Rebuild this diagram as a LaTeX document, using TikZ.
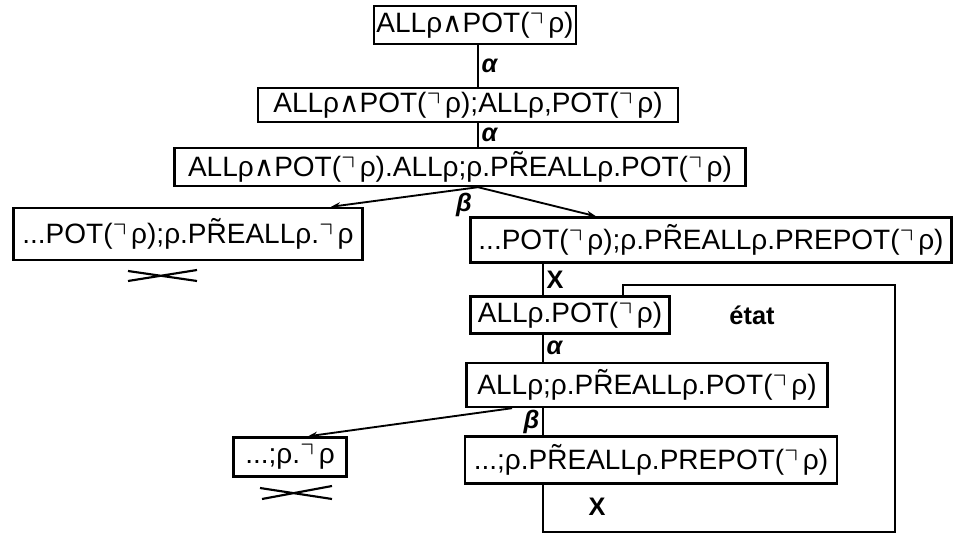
\documentclass[tikz,border=0pt]{standalone}
\usepackage{fontspec}
\usepackage{amssymb}
\setmainfont{Liberation Sans}
\newfontfamily\symfont{DejaVu Sans}
\usetikzlibrary{arrows.meta}
\newdimen\px \px=0.75pt
\newcommand\negmark{$\urcorner$\,}
\newcommand\andmark{{\symfont ∧}}
\tikzset{
  every picture/.style={line width=1.6pt},
  stat/.style={draw, line width=1.8pt, inner sep=2pt, font=\fontsize{21}{24}\selectfont},
  link/.style={line width=1.6pt},
  arrow/.style={-{Stealth[length=7pt, width=5pt]}, line width=1.4pt},
  lab/.style={font=\fontsize{19}{22}\selectfont\bfseries, inner sep=2pt},
}
\begin{document}
\begin{tikzpicture}[x=0.75pt, y=-0.75pt]
  \fill[white] (0,0) rectangle (953,534);
  \useasboundingbox (0,0) rectangle (953,534);
  % columns of the vertical links
  \coordinate (c1) at (478,0);
  \coordinate (c2) at (543,0);
  \coordinate (lp) at (623,0);
  \coordinate (lr) at (895,532);
  \coordinate (lt) at (895,285);
  % states
  \node[stat, minimum width=199\px, minimum height=38\px] (init) at (475,25) {ALLρ\andmark POT(\negmark ρ)};
  \node[stat, minimum width=420\px, minimum height=34\px] (step1) at (468,105) {ALLρ\andmark POT(\negmark ρ);ALLρ,POT(\negmark ρ)};
  \node[stat, minimum width=571\px, minimum height=38\px] (step2) at (460,167) {ALLρ\andmark POT(\negmark ρ).ALLρ;ρ.P\~{R}EALLρ.POT(\negmark ρ)};
  \node[stat, minimum width=349\px, minimum height=52\px] (deadA) at (188,234) {...POT(\negmark ρ);ρ.P\~{R}EALLρ.\negmark ρ};
  \node[stat, minimum width=481\px, minimum height=45\px] (pre) at (711,240) {...POT(\negmark ρ);ρ.P\~{R}EALLρ.PREPOT(\negmark ρ)};
  \node[stat, minimum width=199\px, minimum height=37\px] (state) at (570,315) {ALLρ.POT(\negmark ρ)};
  \node[stat, minimum width=361\px, minimum height=44\px] (step3) at (647,385) {ALLρ;ρ.P\~{R}EALLρ.POT(\negmark ρ)};
  \node[stat, minimum width=113\px, minimum height=39\px] (deadB) at (290,457) {...;ρ.\negmark ρ};
  \node[stat, minimum width=372\px, minimum height=47\px] (preB) at (651,460) {...;ρ.P\~{R}EALLρ.PREPOT(\negmark ρ)};
  \node[lab] (etat) at (752,315) {état};
  % links
  \draw[link] (init.south -| c1) -- (step1.north -| c1) node[lab, midway, right] {\itshape α};
  \draw[link] (step1.south -| c1) -- (step2.north -| c1) node[lab, midway, right] {\itshape α};
  \coordinate (fork) at (step2.south -| c1);
  \draw[arrow] (fork) -- ([xshift=-1.5pt]deadA.north east -| 333,0);
  \draw[arrow] (fork) -- (pre.north -| 596,0);
  \node[lab] (beta1) at (464,205) {\itshape β};
  \draw[link] (pre.south -| c2) -- (state.north -| c2) node[lab, midway, right] {X};
  \draw[link] (state.south -| c2) -- (step3.north -| c2) node[lab, midway, right] {\itshape α};
  \draw[arrow] (step3.south -| 512,0) -- (deadB.north -| 308,0);
  \draw[link] (step3.south -| c2) -- (preB.north -| c2) node[lab, midway, left] {\itshape β};
  % loop back to the state
  \draw[link] (preB.south -| c2) |- (lr) -- (lt) -| (state.north -| lp);
  \node[lab] (xloop) at (597,507) {X};
  % dead ends
  \draw[link] (128,271) -- (197,281) (128,281) -- (197,270);
  \draw[link] (260,488) -- (332,499) (262,499) -- (332,486);
\end{tikzpicture}
\end{document}
